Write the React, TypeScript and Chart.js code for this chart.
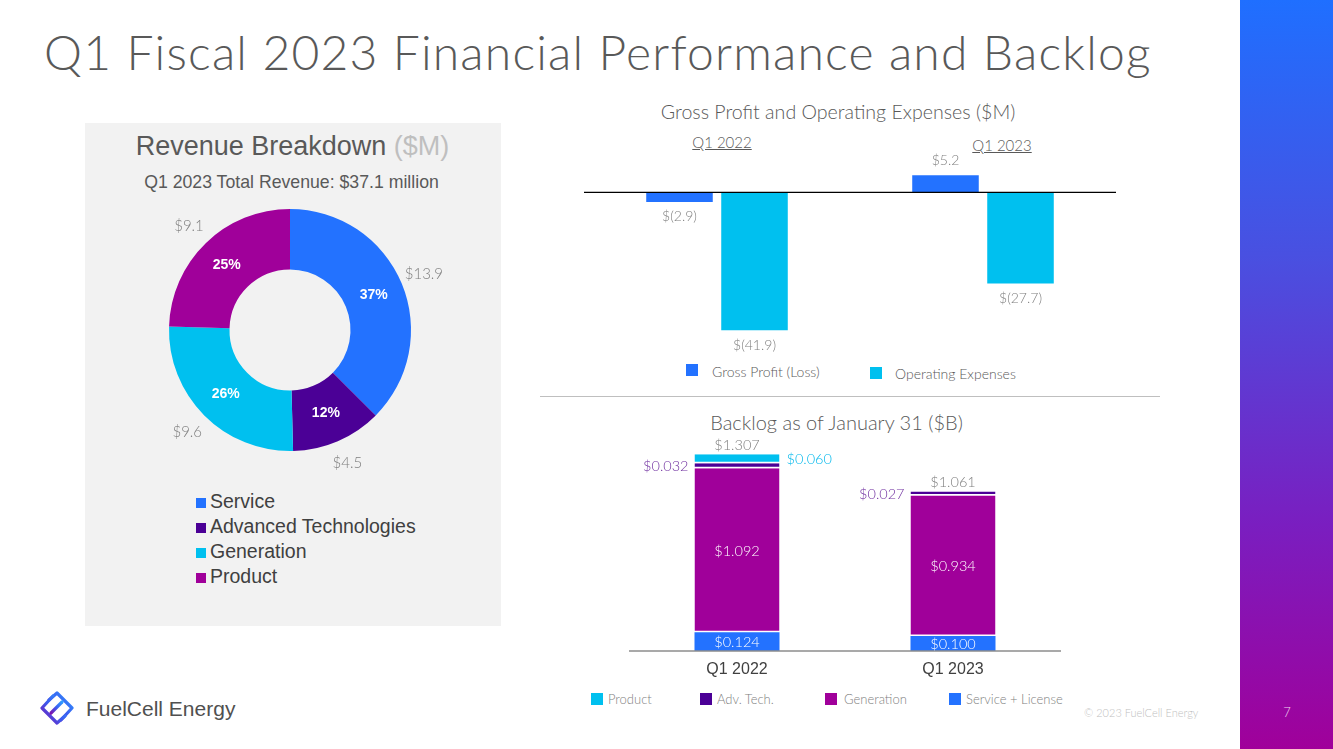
import React, { useEffect, useRef } from "react";
import { Chart, registerables } from "chart.js";

Chart.register(...registerables);

// ---------- data ----------
const revenueSegments = ["Service", "Advanced Technologies", "Generation", "Product"];
const revenueValues = [13.9, 4.5, 9.6, 9.1];

const gpCategories = ["Q1 2022", "Q1 2023"];
const grossProfit = [-2.9, 5.2];
const operatingExpenses = [-41.9, -27.7];

const backlogCategories = ["Q1 2022", "Q1 2023"];
const backlogService = [0.124, 0.1];
const backlogGeneration = [1.092, 0.934];
const backlogAdvTech = [0.032, 0.027];
const backlogProduct = [0.06, 0];
const backlogTotals = [1.307, 1.061];

// ---------- styles ----------
const BLUE = "#2372ff";
const DARKPURPLE = "#4b0096";
const CYAN = "#00c0ef";
const MAGENTA = "#a0009a";
const revenueColors = [BLUE, DARKPURPLE, CYAN, MAGENTA];

const LIGHT = "Lato, 'Open Sans', sans-serif";
const ARIAL = "'Liberation Sans', Arial, sans-serif";

type TP = {
  x: number;
  y: number;
  size: number;
  children: React.ReactNode;
  align?: "left" | "center" | "right";
  color?: string;
  family?: string;
  weight?: number;
  style?: React.CSSProperties;
};
function T({ x, y, size, children, align = "left", color = "#595959", family = LIGHT, weight = 300, style = {} }: TP) {
  const tx = align === "center" ? "-50%" : align === "right" ? "-100%" : "0";
  return (
    <div
      style={{
        position: "absolute",
        left: x,
        top: y - size / 2,
        fontSize: size,
        lineHeight: `${size}px`,
        height: size,
        whiteSpace: "nowrap",
        transform: `translateX(${tx})`,
        color,
        fontFamily: family,
        fontWeight: weight,
        ...style,
      }}
    >
      {children}
    </div>
  );
}

function Sq({ x, y, s, c }: { x: number; y: number; s: number; c: string }) {
  return <div style={{ position: "absolute", left: x, top: y, width: s, height: s, background: c }} />;
}

// ---------- charts ----------
function useChart(build: (canvas: HTMLCanvasElement) => Chart) {
  const ref = useRef<HTMLCanvasElement | null>(null);
  useEffect(() => {
    if (!ref.current) return;
    const ch = build(ref.current);
    return () => ch.destroy();
  }, []);
  return ref;
}

function DonutChart() {
  const ref = useChart((canvas) =>
    new Chart(canvas, {
      type: "doughnut",
      data: {
        labels: revenueSegments,
        datasets: [{ data: revenueValues, backgroundColor: revenueColors, borderWidth: 0 }],
      },
      options: {
        animation: false,
        responsive: true,
        maintainAspectRatio: false,
        cutout: "50%",
        layout: { padding: { left: 49, right: 49, top: 9, bottom: 29 } },
        plugins: { legend: { display: false }, tooltip: { enabled: false } },
      },
      plugins: [
        {
          id: "donutLabels",
          afterDatasetsDraw(chart: any) {
            const ctx = chart.ctx;
            const meta = chart.getDatasetMeta(0);
            const data = chart.data.datasets[0].data as number[];
            const total = data.reduce((a, b) => a + b, 0);
            meta.data.forEach((arc: any, i: number) => {
              const p = arc.getProps(["x", "y", "startAngle", "endAngle", "innerRadius", "outerRadius"], true);
              const mid = (p.startAngle + p.endAngle) / 2;
              const rm = (p.innerRadius + p.outerRadius) / 2;
              ctx.save();
              ctx.textAlign = "center";
              ctx.textBaseline = "middle";
              ctx.fillStyle = "#ffffff";
              ctx.font = `bold 14px ${ARIAL}`;
              ctx.fillText(Math.round((data[i] / total) * 100) + "%", p.x + Math.cos(mid) * rm, p.y + Math.sin(mid) * rm);
              const ro = p.outerRadius + 24;
              ctx.fillStyle = "#7f7f7f";
              ctx.font = `300 15px ${LIGHT}`;
              ctx.fillText("$" + data[i].toFixed(1), p.x + Math.cos(mid) * ro, p.y + Math.sin(mid) * ro);
              ctx.restore();
            });
          },
        },
      ],
    } as any)
  );
  return (
    <div style={{ position: "absolute", left: 120, top: 200, width: 340, height: 280 }}>
      <canvas ref={ref} />
    </div>
  );
}

const fmtM = (v: number) => (v < 0 ? `$(${Math.abs(v).toFixed(1)})` : `$${v.toFixed(1)}`);

function GrossProfitChart() {
  const ref = useChart((canvas) =>
    new Chart(canvas, {
      type: "bar",
      data: {
        labels: gpCategories,
        datasets: [
          { label: "Gross Profit (Loss)", data: grossProfit, backgroundColor: BLUE, borderWidth: 0 },
          { label: "Operating Expenses", data: operatingExpenses, backgroundColor: CYAN, borderWidth: 0 },
        ],
      },
      options: {
        animation: false,
        responsive: true,
        maintainAspectRatio: false,
        categoryPercentage: 0.564,
        barPercentage: 0.887,
        layout: { padding: 0 },
        scales: {
          x: { display: false },
          y: { display: false, min: -50, max: 15 },
        },
        plugins: { legend: { display: false }, tooltip: { enabled: false } },
      },
      plugins: [
        {
          id: "gpDecor",
          afterDatasetsDraw(chart: any) {
            const ctx = chart.ctx;
            const y0 = chart.scales.y.getPixelForValue(0);
            ctx.save();
            ctx.strokeStyle = "#000";
            ctx.lineWidth = 1.3;
            ctx.beginPath();
            ctx.moveTo(chart.chartArea.left, y0);
            ctx.lineTo(chart.chartArea.right, y0);
            ctx.stroke();
            ctx.font = `300 14px ${LIGHT}`;
            ctx.fillStyle = "#7f7f7f";
            ctx.textAlign = "center";
            ctx.textBaseline = "middle";
            chart.data.datasets.forEach((ds: any, di: number) => {
              chart.getDatasetMeta(di).data.forEach((bar: any, i: number) => {
                const v = ds.data[i] as number;
                const y = v < 0 ? bar.y + 15 : bar.y - 15;
                ctx.fillText(fmtM(v), bar.x, y);
              });
            });
            ctx.restore();
          },
        },
      ],
    } as any)
  );
  return (
    <div style={{ position: "absolute", left: 584, top: 143, width: 532, height: 214 }}>
      <canvas ref={ref} />
    </div>
  );
}

const fmtB = (v: number) => "$" + v.toFixed(3);

function BacklogChart() {
  const sepBorder = { top: 0, left: 0, right: 0, bottom: 1.5 };
  const ref = useChart((canvas) =>
    new Chart(canvas, {
      type: "bar",
      data: {
        labels: backlogCategories,
        datasets: [
          { label: "Service + License", data: backlogService, backgroundColor: BLUE, borderWidth: 0 },
          { label: "Generation", data: backlogGeneration, backgroundColor: MAGENTA, borderColor: "#fff", borderWidth: sepBorder, borderSkipped: false },
          { label: "Adv. Tech.", data: backlogAdvTech, backgroundColor: DARKPURPLE, borderColor: "#fff", borderWidth: sepBorder, borderSkipped: false },
          { label: "Product", data: backlogProduct, backgroundColor: CYAN, borderColor: "#fff", borderWidth: sepBorder, borderSkipped: false },
        ],
      },
      options: {
        animation: false,
        responsive: true,
        maintainAspectRatio: false,
        categoryPercentage: 1,
        barPercentage: 0.3935,
        layout: { padding: { left: 0, right: 0, top: 0, bottom: 30 } },
        scales: {
          x: { display: false, stacked: true },
          y: { display: false, stacked: true, min: 0, max: 1.45 },
        },
        plugins: { legend: { display: false }, tooltip: { enabled: false } },
      },
      plugins: [
        {
          id: "backlogDecor",
          afterDatasetsDraw(chart: any) {
            const ctx = chart.ctx;
            const ys = chart.scales.y;
            const xs = chart.scales.x;
            const y0 = ys.getPixelForValue(0);
            ctx.save();
            ctx.strokeStyle = "#8c8c8c";
            ctx.lineWidth = 1.5;
            ctx.beginPath();
            ctx.moveTo(chart.chartArea.left, y0);
            ctx.lineTo(chart.chartArea.right, y0);
            ctx.stroke();

            // category labels
            ctx.font = `16px ${ARIAL}`;
            ctx.fillStyle = "#404040";
            ctx.textAlign = "center";
            ctx.textBaseline = "middle";
            chart.data.labels.forEach((lab: string, i: number) => {
              ctx.fillText(lab, xs.getPixelForValue(i), y0 + 19);
            });

            ctx.font = `300 14.5px ${LIGHT}`;
            const [svc, gen, adv, prod] = [0, 1, 2, 3].map((d) => chart.getDatasetMeta(d).data);
            const ds = chart.data.datasets;
            for (let i = 0; i < chart.data.labels.length; i++) {
              // inside labels
              ctx.fillStyle = "#ffffff";
              ctx.textAlign = "center";
              [svc, gen].forEach((arr: any, k: number) => {
                const b = arr[i];
                ctx.fillText(fmtB(ds[k].data[i]), b.x, (b.y + b.base) / 2 + 1);
              });
              // adv tech to left
              const a = adv[i];
              ctx.fillStyle = "#7030a0";
              ctx.textAlign = "right";
              ctx.fillText(fmtB(ds[2].data[i]), a.x - a.width / 2 - 6, (a.y + a.base) / 2 + 1);
              // product to right
              const p = prod[i];
              if (ds[3].data[i] > 0) {
                ctx.fillStyle = "#00b8ec";
                ctx.textAlign = "left";
                ctx.fillText(fmtB(ds[3].data[i]), p.x + p.width / 2 + 7, (p.y + p.base) / 2);
              }
              // total above
              const sum = ds.reduce((s: number, d: any) => s + d.data[i], 0);
              ctx.fillStyle = "#7f7f7f";
              ctx.textAlign = "center";
              ctx.fillText(fmtB(backlogTotals[i]), p.x, ys.getPixelForValue(sum) - 9);
            }
            ctx.restore();
          },
        },
      ],
    } as any)
  );
  return (
    <div style={{ position: "absolute", left: 628.5, top: 433, width: 432, height: 248 }}>
      <canvas ref={ref} />
    </div>
  );
}

function Logo() {
  return (
    <svg style={{ position: "absolute", left: 39, top: 691 }} width={36} height={34} viewBox="0 0 36 34">
      <defs>
        <linearGradient id="lg" x1="1" y1="0" x2="0" y2="1">
          <stop offset="0" stopColor="#2f9bff" />
          <stop offset="0.5" stopColor="#3b5cf0" />
          <stop offset="1" stopColor="#7a12b0" />
        </linearGradient>
      </defs>
      <g fill="none" stroke="url(#lg)" strokeWidth={3.2} strokeLinecap="round" strokeLinejoin="round">
        <polyline points="10,9 18,2 33,17 22,29" />
        <polyline points="26,25 18,32 3,17 14,5" />
        <line x1="12" y1="22" x2="23" y2="11" />
      </g>
    </svg>
  );
}

export default function App() {
  return (
    <div style={{ position: "absolute", left: 0, top: 0, width: 1333, height: 749, overflow: "hidden", background: "#fff" }}>
      {/* right gradient bar */}
      <div
        style={{
          position: "absolute",
          left: 1240,
          top: 0,
          width: 93,
          height: 749,
          background: "linear-gradient(to bottom, #1f6fff 0%, #4a4fe0 35%, #7a1ec0 70%, #a0009a 100%)",
        }}
      />
      <T x={1287} y={712} size={13} align="center" color="#f0d8f0" family={LIGHT}>
        7
      </T>

      {/* title */}
      <T x={44} y={52} size={48} color="#595959" family={LIGHT} weight={300} style={{ letterSpacing: "1.2px" }}>
        Q1 Fiscal 2023 Financial Performance and Backlog
      </T>

      {/* revenue panel */}
      <div style={{ position: "absolute", left: 85, top: 123, width: 416, height: 503, background: "#f2f2f2" }} />
      <T x={292.5} y={146} size={27} align="center" family={ARIAL} weight={400} color="#595959">
        Revenue Breakdown <span style={{ color: "#bfbfbf" }}>($M)</span>
      </T>
      <T x={291.5} y={182.5} size={17.7} align="center" family={ARIAL} weight={400} color="#595959">
        Q1 2023 Total Revenue: $37.1 million
      </T>
      <DonutChart />
      {revenueSegments.map((s, i) => (
        <React.Fragment key={s}>
          <Sq x={196} y={498 + i * 25} s={10} c={revenueColors[i]} />
          <T x={210} y={501.7 + i * 25} size={19.5} family={ARIAL} weight={400} color="#404040">
            {s}
          </T>
        </React.Fragment>
      ))}

      {/* gross profit */}
      <T x={838} y={111.7} size={19.6} align="center">
        Gross Profit and Operating Expenses ($M)
      </T>
      <T x={722} y={142.5} size={15} align="center" style={{ textDecoration: "underline" }}>
        Q1 2022
      </T>
      <T x={1002} y={145} size={15} align="center" style={{ textDecoration: "underline" }}>
        Q1 2023
      </T>
      <GrossProfitChart />
      <Sq x={686} y={364} s={12} c={BLUE} />
      <T x={712} y={372} size={14}>
        Gross Profit (Loss)
      </T>
      <Sq x={870} y={367} s={12} c={CYAN} />
      <T x={895} y={374} size={14}>
        Operating Expenses
      </T>

      {/* divider */}
      <div style={{ position: "absolute", left: 540, top: 396, width: 620, height: 1, background: "#bfbfbf" }} />

      {/* backlog */}
      <T x={836.5} y={422} size={20} align="center">
        Backlog as of January 31 ($B)
      </T>
      <BacklogChart />
      <Sq x={591} y={693} s={12} c={CYAN} />
      <T x={608} y={699} size={13} color="#7f7f7f">
        Product
      </T>
      <Sq x={700} y={693} s={12} c={DARKPURPLE} />
      <T x={717} y={699} size={13} color="#7f7f7f">
        Adv. Tech.
      </T>
      <Sq x={825} y={693} s={12} c={MAGENTA} />
      <T x={844} y={699} size={13} color="#7f7f7f">
        Generation
      </T>
      <Sq x={949} y={693} s={12} c={BLUE} />
      <T x={966} y={699} size={13} color="#7f7f7f">
        Service + License
      </T>

      {/* footer */}
      <Logo />
      <T x={86} y={708} size={21} family={ARIAL} weight={400} color="#505050">
        FuelCell Energy
      </T>
      <T x={1084} y={712} size={11} color="#bfbfbf">
        © 2023 FuelCell Energy
      </T>
    </div>
  );
}
